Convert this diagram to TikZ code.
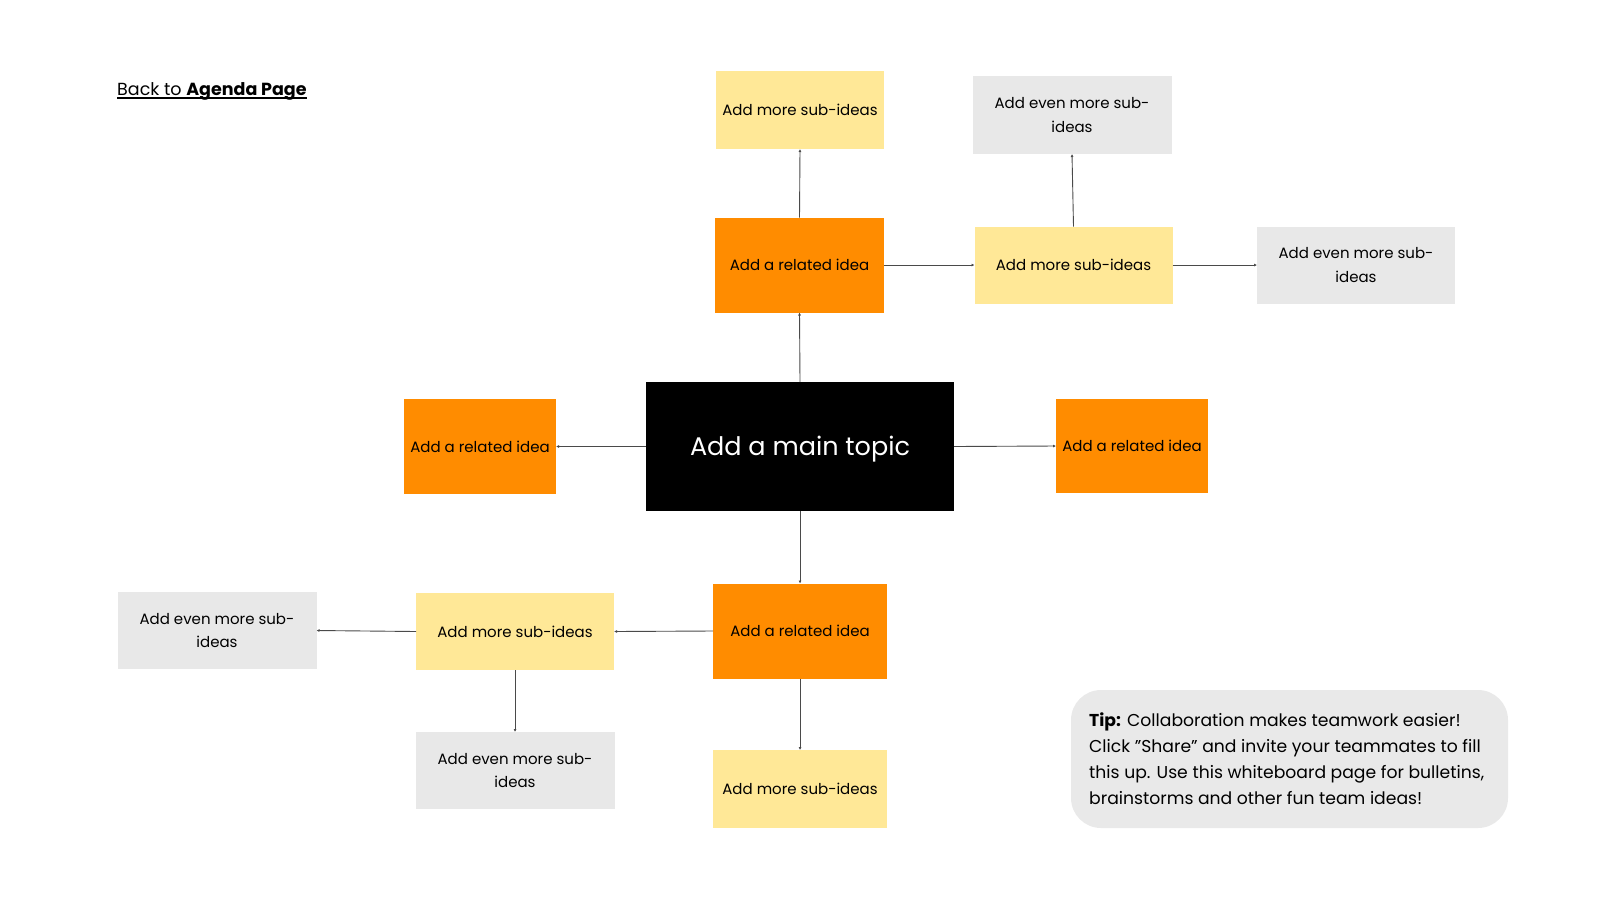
\documentclass[tikz,border=0pt]{standalone}
\usepackage{fontspec}
\setmainfont{Poppins}
\usetikzlibrary{arrows.meta}
\definecolor{orng}{HTML}{FF8C00}
\definecolor{yel}{HTML}{FFE897}
\definecolor{gry}{HTML}{E8E8E8}
\definecolor{tipg}{HTML}{E9E9E9}
\definecolor{lin}{HTML}{4A4A4A}
\begin{document}
\begin{tikzpicture}[x=1pt,y=-1pt,
  box/.style={inner sep=0pt,outer sep=0pt,align=center,font=\fontsize{15}{23.5}\selectfont,text=black},
  rel/.style={box,fill=orng},
  sub/.style={box,fill=yel},
  more/.style={box,fill=gry},
  conn/.style={draw=lin,line width=0.9pt,-{Latex[length=3pt,width=3pt]}}]
\useasboundingbox (0,0) rectangle (1600,900);
% main
\node[box,fill=black,minimum width=308,minimum height=129] (main) at (800,446.5) {};
\node[inner sep=0pt,text=white,font=\fontsize{25.5}{30}\selectfont] (maintext) at (800,449) {Add a main topic};
% top branch
\node[rel,minimum width=169,minimum height=95] (trel) at (799.5,265) {Add a related idea};
\node[sub,minimum width=168,minimum height=78] (tsub) at (800,110) {Add more sub-ideas};
\node[sub,minimum width=198,minimum height=77] (rsub) at (1073.5,265) {Add more sub-ideas};
\node[more,minimum width=199,minimum height=78] (rmoreu) at (1072,115) {Add even more sub-\\ideas};
\node[more,minimum width=198,minimum height=77] (rmorer) at (1356,265) {Add even more sub-\\ideas};
% sides
\node[rel,minimum width=152,minimum height=95] (lrel) at (480,446.5) {Add a related idea};
\node[rel,minimum width=152,minimum height=94] (rrel) at (1132,446) {Add a related idea};
% bottom branch
\node[rel,minimum width=174,minimum height=95] (brel) at (800,631) {Add a related idea};
\node[sub,minimum width=174,minimum height=78] (bsub) at (800,789) {Add more sub-ideas};
\node[sub,minimum width=198,minimum height=77] (lsub) at (515,631.5) {Add more sub-ideas};
\node[more,minimum width=199,minimum height=77] (lmorel) at (217,630.5) {Add even more sub-\\ideas};
\node[more,minimum width=199,minimum height=77] (lmored) at (515,770.5) {Add even more sub-\\ideas};
% connectors
\draw[conn] (main.north) -- (trel.south);
\draw[conn] (trel.north) -- (tsub.south);
\draw[conn] (trel.east) -- (rsub.west);
\draw[conn] (rsub.north) -- (rmoreu.south);
\draw[conn] (rsub.east) -- (rmorer.west);
\draw[conn] (main.west) -- (lrel.east);
\draw[conn] (main.east) -- (rrel.west);
\draw[conn] (main.south) -- (brel.north);
\draw[conn] (brel.south) -- (bsub.north);
\draw[conn] (brel.west) -- (lsub.east);
\draw[conn] (lsub.west) -- (lmorel.east);
\draw[conn] (lsub.south) -- (lmored.north);
% back link
\node[anchor=base west,inner sep=0pt,font=\fontsize{17.5}{20}\selectfont] (back) at (117,95) {Back to \textbf{Agenda Page}};
\draw[line width=1.1pt] ([yshift=-3pt]back.base west) -- ([yshift=-3pt]back.base east);
% tip
\node[fill=tipg,rounded corners=30,minimum width=437,minimum height=138,inner sep=0pt] (tipbox) at (1289.5,759) {};
\node[anchor=north west,inner sep=0pt,align=left,font=\fontsize{17.2}{26}\selectfont] (tip) at (1089,713) {\textbf{Tip:} Collaboration makes teamwork easier!\\Click \symbol{34}Share\symbol{34} and invite your teammates to fill\\this up. Use this whiteboard page for bulletins,\\brainstorms and other fun team ideas!};
\end{tikzpicture}
\end{document}
